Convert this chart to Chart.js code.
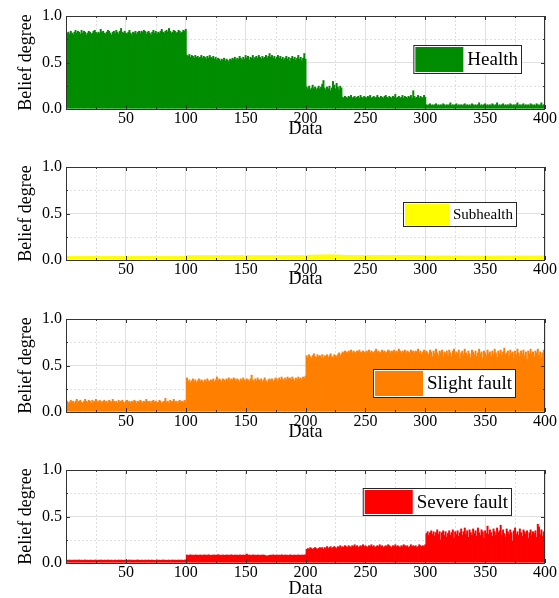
<!DOCTYPE html>
<html>
<head>
<meta charset="utf-8">
<title>Belief degree</title>
<script src="https://cdn.jsdelivr.net/npm/chart.js@4.4.1/dist/chart.umd.min.js"></script>
<style>
  body { margin: 0; background: #fff; }
  canvas { position: absolute; left: 0; }
</style>
</head>
<body>
<canvas id="p1" width="559" height="151" style="top:0px"></canvas>
<canvas id="p2" width="559" height="151" style="top:151px"></canvas>
<canvas id="p3" width="559" height="151" style="top:303px"></canvas>
<canvas id="p4" width="559" height="144" style="top:454px"></canvas>
<script>
// axis ticks
const xTicks = [50, 100, 150, 200, 250, 300, 350, 400];
const xMinor = [25, 75, 125, 175, 225, 275, 325, 375];
const yTicks = [0, 0.5, 1];
const yMinor = [0.25, 0.75];

const labels = ['Health', 'Subhealth', 'Slight fault', 'Severe fault'];
const colors = ['#008c00', '#ffff00', '#ff8000', '#ff0000'];

// belief degree of each state for samples 1..400
const health = [
0.82,0.83,0.81,0.84,0.82,0.80,0.83,0.85,0.82,0.84,0.83,0.81,0.85,0.82,0.84,0.83,0.80,0.82,0.84,0.83,
0.81,0.82,0.84,0.85,0.83,0.81,0.83,0.82,0.86,0.83,0.84,0.82,0.81,0.83,0.85,0.84,0.82,0.80,0.83,0.84,
0.82,0.85,0.83,0.81,0.84,0.87,0.83,0.82,0.84,0.82,0.81,0.83,0.85,0.82,0.80,0.83,0.82,0.84,0.81,0.83,
0.84,0.82,0.84,0.83,0.85,0.84,0.81,0.83,0.84,0.82,0.80,0.83,0.85,0.82,0.84,0.81,0.83,0.82,0.84,0.86,
0.83,0.82,0.84,0.85,0.83,0.87,0.84,0.82,0.83,0.85,0.84,0.82,0.83,0.85,0.84,0.82,0.83,0.85,0.84,0.86,
0.58,0.57,0.59,0.56,0.58,0.57,0.55,0.58,0.56,0.57,0.55,0.56,0.58,0.55,0.57,0.56,0.54,0.57,0.55,0.58,
0.56,0.55,0.57,0.54,0.56,0.53,0.55,0.54,0.52,0.54,0.53,0.55,0.52,0.54,0.53,0.51,0.54,0.53,0.55,0.54,
0.56,0.53,0.55,0.54,0.57,0.55,0.53,0.56,0.54,0.58,0.55,0.57,0.53,0.56,0.55,0.58,0.54,0.56,0.57,0.55,
0.58,0.56,0.54,0.57,0.55,0.56,0.58,0.55,0.57,0.60,0.56,0.58,0.55,0.57,0.54,0.56,0.58,0.55,0.57,0.54,
0.56,0.53,0.55,0.57,0.54,0.56,0.52,0.55,0.57,0.54,0.56,0.53,0.55,0.58,0.54,0.56,0.52,0.55,0.60,0.54,
0.24,0.22,0.25,0.21,0.23,0.26,0.22,0.24,0.21,0.23,0.25,0.22,0.24,0.27,0.31,0.23,0.21,0.24,0.22,0.25,
0.20,0.23,0.30,0.26,0.22,0.28,0.24,0.21,0.25,0.23,0.13,0.12,0.14,0.13,0.12,0.14,0.13,0.15,0.12,0.13,
0.14,0.12,0.13,0.14,0.12,0.15,0.13,0.12,0.14,0.13,0.12,0.14,0.13,0.15,0.12,0.13,0.14,0.12,0.13,0.15,
0.13,0.12,0.14,0.13,0.12,0.14,0.15,0.13,0.12,0.14,0.13,0.12,0.14,0.13,0.16,0.12,0.13,0.14,0.12,0.13,
0.15,0.12,0.14,0.13,0.12,0.14,0.13,0.15,0.12,0.20,0.14,0.12,0.13,0.15,0.12,0.14,0.13,0.12,0.15,0.13,
0.05,0.04,0.05,0.06,0.04,0.05,0.04,0.05,0.06,0.04,0.05,0.04,0.05,0.04,0.06,0.05,0.04,0.05,0.04,0.05,
0.07,0.04,0.05,0.04,0.05,0.06,0.04,0.05,0.04,0.05,0.04,0.05,0.06,0.04,0.05,0.04,0.05,0.04,0.06,0.05,
0.04,0.05,0.04,0.05,0.07,0.04,0.05,0.04,0.05,0.06,0.04,0.05,0.04,0.05,0.04,0.06,0.05,0.04,0.05,0.07,
0.04,0.05,0.04,0.05,0.06,0.04,0.05,0.04,0.05,0.04,0.06,0.05,0.04,0.05,0.04,0.05,0.07,0.04,0.05,0.04,
0.05,0.06,0.04,0.05,0.04,0.05,0.04,0.06,0.05,0.04,0.05,0.04,0.06,0.05,0.04,0.05,0.07,0.04,0.05,0.06
];

const subhealth = [
0.042,0.041,0.043,0.042,0.044,0.041,0.042,0.043,0.041,0.042,0.043,0.042,0.041,0.044,0.042,0.043,0.041,0.042,0.043,0.042,
0.041,0.043,0.042,0.044,0.042,0.041,0.043,0.042,0.041,0.043,0.042,0.044,0.041,0.042,0.043,0.042,0.041,0.043,0.042,0.044,
0.042,0.041,0.043,0.042,0.041,0.043,0.044,0.042,0.041,0.043,0.042,0.043,0.041,0.042,0.044,0.042,0.043,0.041,0.042,0.043,
0.041,0.042,0.044,0.043,0.042,0.041,0.043,0.042,0.044,0.042,0.043,0.041,0.042,0.043,0.042,0.044,0.041,0.043,0.042,0.041,
0.043,0.042,0.044,0.042,0.041,0.043,0.042,0.043,0.041,0.044,0.042,0.043,0.041,0.042,0.044,0.043,0.042,0.041,0.043,0.045,
0.050,0.051,0.049,0.052,0.050,0.051,0.049,0.050,0.052,0.051,0.049,0.050,0.051,0.052,0.050,0.049,0.051,0.050,0.052,0.051,
0.050,0.049,0.051,0.050,0.052,0.050,0.051,0.049,0.050,0.052,0.051,0.050,0.049,0.051,0.052,0.050,0.051,0.050,0.049,0.051,
0.052,0.050,0.051,0.049,0.050,0.052,0.051,0.050,0.051,0.049,0.050,0.052,0.051,0.050,0.049,0.051,0.052,0.050,0.051,0.050,
0.049,0.051,0.050,0.052,0.051,0.050,0.049,0.051,0.052,0.050,0.051,0.050,0.052,0.049,0.051,0.050,0.052,0.051,0.050,0.051,
0.052,0.050,0.051,0.053,0.050,0.052,0.051,0.050,0.052,0.051,0.053,0.051,0.052,0.050,0.053,0.051,0.052,0.053,0.051,0.052,
0.054,0.055,0.056,0.054,0.057,0.055,0.056,0.058,0.055,0.057,0.056,0.058,0.057,0.059,0.056,0.058,0.060,0.057,0.059,0.058,
0.060,0.057,0.059,0.058,0.056,0.058,0.057,0.055,0.057,0.056,0.054,0.055,0.053,0.054,0.055,0.053,0.054,0.052,0.054,0.055,
0.053,0.054,0.052,0.053,0.055,0.054,0.053,0.052,0.054,0.053,0.052,0.054,0.053,0.055,0.052,0.053,0.054,0.052,0.053,0.054,
0.053,0.052,0.054,0.053,0.055,0.052,0.054,0.053,0.052,0.054,0.053,0.055,0.052,0.053,0.054,0.052,0.053,0.055,0.053,0.052,
0.054,0.053,0.052,0.054,0.053,0.055,0.052,0.053,0.054,0.053,0.052,0.054,0.053,0.052,0.054,0.053,0.052,0.054,0.053,0.052,
0.047,0.046,0.048,0.046,0.047,0.045,0.047,0.046,0.048,0.046,0.045,0.047,0.046,0.048,0.046,0.047,0.045,0.046,0.047,0.046,
0.048,0.046,0.045,0.047,0.046,0.047,0.045,0.046,0.048,0.046,0.047,0.045,0.046,0.047,0.046,0.048,0.045,0.046,0.047,0.046,
0.045,0.047,0.046,0.048,0.046,0.045,0.047,0.046,0.047,0.045,0.046,0.048,0.046,0.047,0.045,0.046,0.047,0.046,0.045,0.047,
0.046,0.047,0.045,0.046,0.048,0.046,0.047,0.045,0.046,0.047,0.045,0.046,0.047,0.046,0.048,0.045,0.046,0.047,0.046,0.045,
0.047,0.046,0.048,0.045,0.046,0.047,0.046,0.045,0.047,0.046,0.045,0.047,0.046,0.045,0.047,0.046,0.045,0.047,0.046,0.046
];

const slightFault = [
0.12,0.10,0.11,0.13,0.11,0.12,0.10,0.12,0.14,0.11,0.12,0.13,0.11,0.10,0.12,0.14,0.12,0.11,0.13,0.12,
0.10,0.13,0.11,0.12,0.14,0.12,0.11,0.13,0.12,0.10,0.12,0.13,0.11,0.12,0.10,0.13,0.12,0.11,0.14,0.12,
0.11,0.12,0.10,0.13,0.11,0.12,0.13,0.11,0.10,0.12,0.13,0.11,0.12,0.10,0.12,0.11,0.13,0.12,0.10,0.12,
0.11,0.13,0.12,0.10,0.12,0.11,0.14,0.12,0.11,0.12,0.10,0.12,0.13,0.11,0.12,0.10,0.11,0.13,0.12,0.10,
0.11,0.12,0.15,0.11,0.12,0.10,0.13,0.11,0.12,0.14,0.11,0.12,0.10,0.12,0.13,0.11,0.12,0.11,0.13,0.11,
0.37,0.33,0.35,0.32,0.34,0.36,0.33,0.35,0.32,0.34,0.36,0.33,0.35,0.34,0.32,0.35,0.33,0.36,0.34,0.33,
0.35,0.34,0.36,0.33,0.35,0.38,0.34,0.36,0.35,0.33,0.36,0.35,0.34,0.36,0.35,0.37,0.34,0.36,0.35,0.37,
0.36,0.34,0.36,0.35,0.33,0.36,0.34,0.37,0.35,0.34,0.36,0.35,0.33,0.36,0.40,0.35,0.33,0.36,0.34,0.37,
0.35,0.34,0.36,0.33,0.35,0.37,0.34,0.32,0.35,0.36,0.34,0.36,0.33,0.35,0.37,0.36,0.34,0.37,0.35,0.38,
0.36,0.34,0.37,0.35,0.38,0.36,0.37,0.35,0.38,0.36,0.34,0.37,0.35,0.38,0.36,0.37,0.35,0.38,0.37,0.39,
0.61,0.59,0.62,0.60,0.58,0.61,0.63,0.60,0.59,0.62,0.60,0.61,0.59,0.62,0.58,0.61,0.60,0.62,0.59,0.61,
0.63,0.60,0.59,0.62,0.61,0.60,0.62,0.64,0.61,0.63,0.65,0.64,0.66,0.65,0.64,0.66,0.65,0.67,0.64,0.66,
0.65,0.64,0.66,0.65,0.67,0.65,0.64,0.66,0.65,0.64,0.66,0.65,0.67,0.64,0.66,0.65,0.64,0.66,0.68,0.65,
0.66,0.64,0.65,0.67,0.65,0.66,0.64,0.65,0.67,0.66,0.64,0.66,0.65,0.67,0.64,0.66,0.65,0.68,0.66,0.64,
0.66,0.65,0.67,0.64,0.66,0.65,0.64,0.67,0.65,0.66,0.64,0.66,0.65,0.68,0.64,0.66,0.62,0.65,0.67,0.64,
0.66,0.64,0.62,0.67,0.65,0.60,0.66,0.63,0.68,0.64,0.61,0.66,0.64,0.67,0.59,0.65,0.63,0.66,0.61,0.67,
0.64,0.60,0.66,0.68,0.62,0.65,0.63,0.67,0.58,0.64,0.66,0.62,0.68,0.64,0.61,0.66,0.63,0.59,0.67,0.65,
0.62,0.66,0.60,0.64,0.68,0.63,0.65,0.58,0.66,0.64,0.61,0.67,0.63,0.65,0.60,0.66,0.62,0.68,0.64,0.59,
0.66,0.63,0.67,0.61,0.65,0.69,0.62,0.64,0.66,0.60,0.67,0.63,0.65,0.58,0.66,0.62,0.68,0.64,0.60,0.66,
0.63,0.67,0.61,0.65,0.57,0.66,0.63,0.68,0.62,0.65,0.60,0.66,0.64,0.68,0.61,0.65,0.59,0.64,0.67,0.68
];

const severeFault = [
0.035,0.032,0.036,0.034,0.031,0.035,0.033,0.036,0.032,0.034,0.036,0.033,0.035,0.031,0.034,0.036,0.033,0.035,0.032,0.034,
0.035,0.033,0.031,0.036,0.034,0.032,0.035,0.033,0.036,0.034,0.032,0.035,0.033,0.034,0.036,0.032,0.034,0.035,0.031,0.033,
0.035,0.034,0.032,0.036,0.033,0.035,0.034,0.032,0.035,0.033,0.031,0.034,0.036,0.033,0.035,0.032,0.034,0.033,0.035,0.036,
0.033,0.032,0.035,0.034,0.031,0.035,0.033,0.034,0.036,0.032,0.034,0.035,0.033,0.031,0.034,0.036,0.033,0.035,0.032,0.034,
0.036,0.033,0.035,0.032,0.034,0.035,0.031,0.034,0.036,0.033,0.035,0.032,0.034,0.036,0.033,0.035,0.034,0.032,0.036,0.035,
0.090,0.085,0.088,0.092,0.086,0.089,0.084,0.091,0.087,0.089,0.086,0.090,0.088,0.085,0.091,0.087,0.089,0.086,0.092,0.088,
0.085,0.089,0.087,0.091,0.086,0.088,0.093,0.087,0.089,0.085,0.090,0.088,0.086,0.091,0.087,0.089,0.085,0.092,0.088,0.086,
0.090,0.087,0.089,0.085,0.091,0.088,0.086,0.090,0.087,0.089,0.100,0.086,0.090,0.088,0.085,0.091,0.087,0.089,0.086,0.090,
0.088,0.085,0.089,0.087,0.091,0.086,0.080,0.078,0.082,0.087,0.089,0.085,0.091,0.088,0.086,0.090,0.087,0.089,0.085,0.092,
0.088,0.086,0.090,0.087,0.089,0.085,0.091,0.088,0.086,0.090,0.087,0.089,0.085,0.091,0.088,0.086,0.090,0.087,0.089,0.092,
0.15,0.16,0.15,0.17,0.16,0.15,0.16,0.17,0.16,0.15,0.16,0.17,0.16,0.17,0.15,0.17,0.16,0.18,0.16,0.17,
0.18,0.16,0.17,0.18,0.17,0.16,0.18,0.17,0.19,0.17,0.18,0.17,0.19,0.18,0.17,0.19,0.18,0.17,0.19,0.18,
0.20,0.18,0.19,0.17,0.18,0.19,0.18,0.20,0.18,0.19,0.18,0.17,0.19,0.18,0.20,0.18,0.19,0.17,0.18,0.19,
0.18,0.20,0.18,0.19,0.17,0.18,0.19,0.18,0.20,0.19,0.18,0.17,0.19,0.18,0.20,0.18,0.19,0.18,0.17,0.19,
0.18,0.20,0.19,0.18,0.19,0.17,0.18,0.20,0.18,0.19,0.18,0.19,0.17,0.18,0.20,0.19,0.18,0.19,0.18,0.20,
0.32,0.34,0.30,0.33,0.35,0.31,0.34,0.29,0.33,0.36,0.31,0.34,0.25,0.33,0.35,0.30,0.34,0.28,0.32,0.35,
0.30,0.33,0.36,0.27,0.34,0.31,0.35,0.29,0.33,0.37,0.30,0.34,0.38,0.31,0.35,0.28,0.36,0.33,0.30,0.37,
0.32,0.35,0.29,0.38,0.33,0.30,0.36,0.34,0.27,0.35,0.32,0.40,0.31,0.36,0.33,0.29,0.37,0.34,0.30,0.38,
0.33,0.35,0.41,0.30,0.36,0.32,0.28,0.37,0.34,0.31,0.36,0.33,0.24,0.35,0.38,0.31,0.34,0.30,0.37,0.33,
0.29,0.36,0.34,0.31,0.35,0.27,0.33,0.36,0.30,0.34,0.32,0.35,0.28,0.42,0.39,0.31,0.36,0.29,0.34,0.26
];

const series = [health, subhealth, slightFault, severeFault];
series.forEach((s, i) => {
    if (s.length !== 400) throw new Error(labels[i] + ' has ' + s.length + ' values');
});

const serif = "'Liberation Serif', 'Times New Roman', serif";
const gridColor = '#e0e0e0';
const axisColor = '#333333';

// dashed minor grid, inward tick marks and the box around the axes
let framePlugin = {
    id: 'frame',
    beforeDatasetsDraw(chart) {
        let {ctx, chartArea: a, scales: {x, y}} = chart;
        ctx.save();
        ctx.strokeStyle = gridColor;
        ctx.lineWidth = 1;
        ctx.setLineDash([2, 2]);
        ctx.beginPath();
        for (let v of xMinor) {
            let px = Math.round(x.getPixelForValue(v)) + 0.5;
            ctx.moveTo(px, a.top); ctx.lineTo(px, a.bottom);
        }
        for (let v of yMinor) {
            let py = Math.round(y.getPixelForValue(v)) + 0.5;
            ctx.moveTo(a.left, py); ctx.lineTo(a.right, py);
        }
        ctx.stroke();
        ctx.restore();
    },
    afterDatasetsDraw(chart) {
        let {ctx, chartArea: a, scales: {x, y}} = chart;
        ctx.save();
        ctx.strokeStyle = axisColor;
        ctx.lineWidth = 1;
        ctx.beginPath();
        let xt = xTicks.map(v => [v, 4]).concat(xMinor.map(v => [v, 2]));
        for (let [v, len] of xt) {
            let px = Math.round(x.getPixelForValue(v)) + 0.5;
            ctx.moveTo(px, a.top); ctx.lineTo(px, a.top + len);
            ctx.moveTo(px, a.bottom); ctx.lineTo(px, a.bottom - len);
        }
        let yt = yTicks.map(v => [v, 4]).concat(yMinor.map(v => [v, 2]));
        for (let [v, len] of yt) {
            let py = Math.round(y.getPixelForValue(v)) + 0.5;
            ctx.moveTo(a.left, py); ctx.lineTo(a.left + len, py);
            ctx.moveTo(a.right, py); ctx.lineTo(a.right - len, py);
        }
        ctx.stroke();
        ctx.strokeRect(a.left + 0.5, a.top + 0.5, a.right - a.left - 1, a.bottom - a.top);
        ctx.restore();
    }
};

// legend box inside the axes
let boxLegend = {
    id: 'boxLegend',
    afterDraw(chart, args, opts) {
        let ds = chart.data.datasets[0];
        let ctx = chart.ctx;
        ctx.save();
        ctx.font = opts.size + 'px ' + serif;
        let tw = ctx.measureText(ds.label).width;
        let w = opts.sw + tw + 10;
        let h = opts.sh + 4;
        let x = opts.right - w;
        let y = opts.top;
        ctx.fillStyle = '#ffffff';
        ctx.fillRect(x, y, w, h);
        ctx.strokeStyle = '#262626';
        ctx.lineWidth = 1;
        ctx.strokeRect(x + 0.5, y + 0.5, w - 1, h - 1);
        ctx.fillStyle = ds.backgroundColor;
        ctx.fillRect(x + 2, y + 2, opts.sw, opts.sh);
        ctx.fillStyle = '#000000';
        ctx.textBaseline = 'middle';
        ctx.fillText(ds.label, x + opts.sw + 6, y + h / 2 + 1);
        ctx.restore();
    }
};

function makePanel(id, idx, titleY, legend) {
    let canvas = document.getElementById(id);
    let values = series[idx];
    let xHeight = canvas.height - 109;
    return new Chart(canvas, {
        type: 'bar',
        data: {
            datasets: [{
                label: labels[idx],
                data: values.map((v, i) => ({x: i + 1, y: v})),
                backgroundColor: colors[idx],
                borderWidth: 0,
                barThickness: 2,
                inflateAmount: 0,
                clip: 0
            }]
        },
        options: {
            responsive: false,
            animation: false,
            layout: {padding: {top: 16, right: 14, left: 0, bottom: 0}},
            plugins: {
                legend: {display: false},
                tooltip: {enabled: false},
                boxLegend: legend
            },
            scales: {
                x: {
                    type: 'linear',
                    offset: false,
                    min: 0,
                    max: 400,
                    afterBuildTicks: s => { s.ticks = xTicks.map(v => ({value: v})); },
                    afterFit: s => { s.height = xHeight; },
                    ticks: {
                        font: {family: serif, size: 16},
                        color: '#000',
                        padding: 0,
                        maxRotation: 0,
                        autoSkip: false
                    },
                    grid: {color: gridColor, drawTicks: false, offset: false},
                    border: {display: false},
                    title: {
                        display: true,
                        text: 'Data',
                        font: {family: serif, size: 18},
                        color: '#000',
                        padding: {top: 0, bottom: canvas.height - titleY - 10.8}
                    }
                },
                y: {
                    type: 'linear',
                    min: 0,
                    max: 1,
                    afterBuildTicks: s => { s.ticks = yTicks.map(v => ({value: v})); },
                    afterFit: s => { s.width = 66; },
                    ticks: {
                        font: {family: serif, size: 16},
                        color: '#000',
                        padding: 4,
                        callback: v => v.toFixed(1)
                    },
                    grid: {color: gridColor, drawTicks: false},
                    border: {display: false},
                    title: {
                        display: true,
                        text: 'Belief degree',
                        font: {family: serif, size: 18},
                        color: '#000',
                        padding: {top: 15, bottom: 0}
                    }
                }
            }
        },
        plugins: [framePlugin, boxLegend]
    });
}

makePanel('p1', 0, 129, {right: 522, top: 45, sw: 48, sh: 25, size: 19});
makePanel('p2', 1, 128, {right: 517, top: 51, sw: 44, sh: 21, size: 15});
makePanel('p3', 2, 129, {right: 516, top: 66, sw: 48, sh: 25, size: 19});
makePanel('p4', 3, 135, {right: 512, top: 34, sw: 48, sh: 24, size: 19});
</script>
</body>
</html>
